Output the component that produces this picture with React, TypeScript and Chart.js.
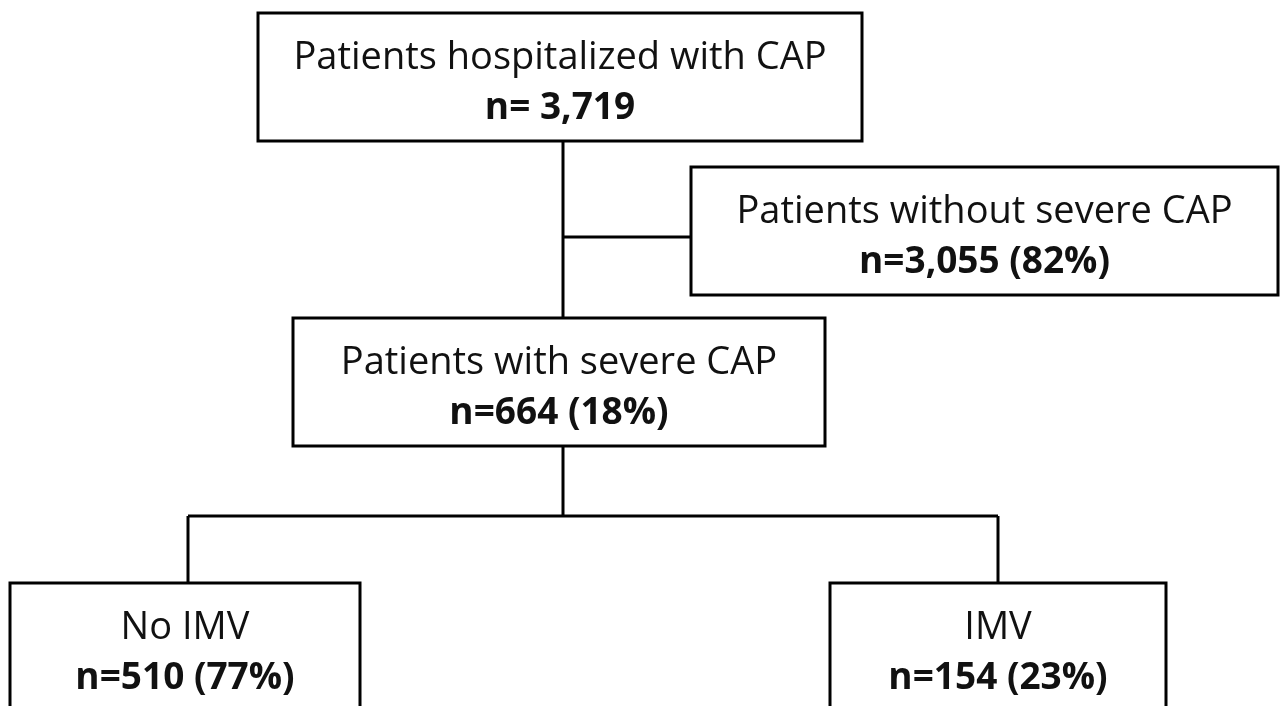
import React, { useEffect, useRef } from "react";
import { Chart, registerables } from "chart.js";

Chart.register(...registerables);

// Flowchart content
const nodeTitles = [
  "Patients hospitalized with CAP",
  "Patients without severe CAP",
  "Patients with severe CAP",
  "No IMV",
  "IMV",
];
const nodeCounts = [
  "n= 3,719",
  "n=3,055 (82%)",
  "n=664 (18%)",
  "n=510 (77%)",
  "n=154 (23%)",
];

// Node boxes in axis units (x: 0..1283, y: 0..706 top-down)
const nodeLeft = [258, 691, 293, 10, 830];
const nodeRight = [862, 1278, 825, 360, 1166];
const nodeTop = [13, 167, 318, 583, 583];
const nodeBottom = [141, 295, 446, 730, 730];

// Connector segments in axis units
const edgeX0 = [563, 563, 563, 188, 188, 998];
const edgeY0 = [141, 237, 446, 516, 516, 516];
const edgeX1 = [563, 691, 563, 998, 188, 998];
const edgeY1 = [318, 237, 516, 516, 583, 583];

const W = 1283;
const H = 706;

export default function App() {
  const ref = useRef<HTMLCanvasElement | null>(null);

  useEffect(() => {
    if (!ref.current) return;
    const datasets: any[] = [];
    nodeTitles.forEach((_, i) => {
      datasets.push({
        data: [
          { x: nodeLeft[i], y: nodeTop[i] },
          { x: nodeRight[i], y: nodeTop[i] },
          { x: nodeRight[i], y: nodeBottom[i] },
          { x: nodeLeft[i], y: nodeBottom[i] },
          { x: nodeLeft[i], y: nodeTop[i] },
        ],
        showLine: true,
        borderColor: "#000",
        borderWidth: 3,
        pointRadius: 0,
        borderJoinStyle: "miter",
        borderCapStyle: "square",
        tension: 0,
        fill: false,
      });
    });
    edgeX0.forEach((_, i) => {
      datasets.push({
        data: [
          { x: edgeX0[i], y: edgeY0[i] },
          { x: edgeX1[i], y: edgeY1[i] },
        ],
        showLine: true,
        borderColor: "#000",
        borderWidth: 3,
        pointRadius: 0,
        borderCapStyle: "butt",
        tension: 0,
        fill: false,
      });
    });

    const labelPlugin = {
      id: "nodeLabels",
      afterDatasetsDraw(chart: any) {
        const { ctx, scales } = chart;
        const xs = scales.x;
        const ys = scales.y;
        ctx.save();
        ctx.fillStyle = "#111";
        ctx.textAlign = "center";
        ctx.textBaseline = "alphabetic";
        nodeTitles.forEach((t, i) => {
          const cx = xs.getPixelForValue((nodeLeft[i] + nodeRight[i]) / 2);
          const top = ys.getPixelForValue(nodeTop[i]);
          ctx.font = "38px 'Open Sans'";
          ctx.fillText(t, cx, top + 56);
          ctx.font = "bold 37px 'Open Sans'";
          ctx.fillText(nodeCounts[i], cx, top + 106);
        });
        ctx.restore();
      },
    };

    const chart = new Chart(ref.current, {
      type: "scatter",
      data: { datasets },
      options: {
        animation: false,
        responsive: false,
        devicePixelRatio: 1,
        layout: { padding: 0 },
        plugins: { legend: { display: false }, tooltip: { enabled: false } },
        events: [],
        scales: {
          x: { type: "linear", min: 0, max: W, display: false },
          y: { type: "linear", min: 0, max: H, reverse: true, display: false },
        },
      },
      plugins: [labelPlugin],
    });
    return () => chart.destroy();
  }, []);

  return (
    <div style={{ position: "absolute", left: 0, top: 0, width: W, height: H, background: "#fff" }}>
      <canvas ref={ref} width={W} height={H} style={{ width: W, height: H, display: "block" }} />
    </div>
  );
}
